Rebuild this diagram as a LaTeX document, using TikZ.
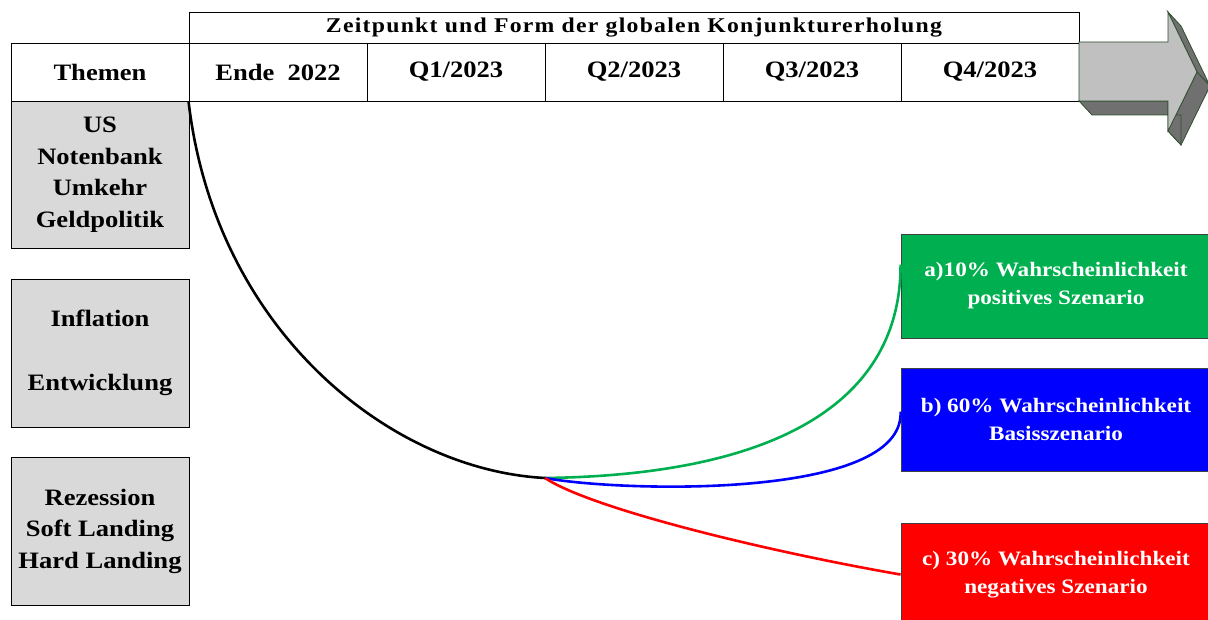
\documentclass[tikz,border=0pt]{standalone}
\usepackage{fontspec}
\setmainfont{Liberation Serif}[FakeStretch=1.13]
\usepackage{tikz}

\begin{document}
\begin{tikzpicture}[x=1pt,y=1pt,
  cell/.style={draw=black,line width=0.9pt,minimum width=178,minimum height=58,inner sep=0pt,align=center,font=\bfseries\fontsize{23.5}{31.5}\selectfont},
  theme/.style={cell,fill=themeGray,minimum height=148},
  scen/.style={draw=black!75,line width=0.9pt,minimum width=310,minimum height=104,inner sep=0pt,align=center,text=white,font=\bfseries\fontsize{20.5}{28}\selectfont},
  link/.style={line width=2.6pt}]
\definecolor{themeGray}{RGB}{217,217,217}
\definecolor{posGreen}{RGB}{0,176,80}
\definecolor{baseBlue}{RGB}{0,0,255}
\definecolor{negRed}{RGB}{255,0,0}
\definecolor{arrowFace}{RGB}{192,192,192}
\definecolor{arrowSide}{RGB}{112,112,112}
\definecolor{arrowEdge}{RGB}{47,79,47}
\path[use as bounding box,fill=white] (0,0) rectangle (1208,620);

\node[cell,minimum width=890,minimum height=31,font=\bfseries\fontsize{21}{22}\selectfont\addfontfeature{LetterSpace=6}] (title) at (634,592.5) {Zeitpunkt und Form der globalen Konjunkturerholung};
\node[cell] (themen) at (100,548) {Themen};
\node[cell] (ende) at (278,548) {Ende\ \ 2022};
\node[cell] (qone) at (456,548) {Q1/2023};
\node[cell] (qtwo) at (634,548) {Q2/2023};
\node[cell] (qthree) at (812,548) {Q3/2023};
\node[cell] (qfour) at (990,548) {Q4/2023};

\node[theme,minimum height=147] (us) at (100,445.5) {US\\Notenbank\\Umkehr\\Geldpolitik};
\node[theme] (infl) at (100,267) {Inflation\\[33pt]Entwicklung};
\node[theme] (rez) at (100,89) {Rezession\\Soft Landing\\Hard Landing};

\node[scen,fill=posGreen] (pos) at (1056,334) {a)10\% Wahrscheinlichkeit\\positives Szenario};
\node[scen,fill=baseBlue,minimum height=103] (basis) at (1056,200.5) {b) 60\% Wahrscheinlichkeit\\Basisszenario};
\node[scen,fill=negRed] (neg) at (1056,45) {c) 30\% Wahrscheinlichkeit\\negatives Szenario};

\path[draw=arrowEdge,line width=0.8pt,fill=arrowSide] (1168,608) -- (1181,594) -- (1210,534) -- (1197,548) -- cycle;
\path[draw=arrowEdge,line width=0.8pt,fill=arrowSide] (1197,548) -- (1210,534) -- (1181,475) -- (1168,489) -- cycle;
\path[draw=arrowEdge,line width=0.8pt,fill=arrowSide] (1079,519) -- (1092,505) -- (1181,505) -- (1181,475) -- (1168,489) -- (1168,519) -- cycle;
\path[draw=arrowEdge,line width=0.8pt,fill=arrowFace] (1079,578) -- (1168,578) -- (1168,608) -- (1197,548) -- (1168,489) -- (1168,519) -- (1079,519) -- cycle;

\coordinate (split) at (545,142);
\draw[link,black] (ende.south west) .. controls (215,290) and (390,150) .. (split);
\draw[link,posGreen] (split) .. controls (780,145) and (901,220) .. ([yshift=-31pt]pos.north west);
\draw[link,baseBlue] (split) .. controls (620,128) and (905,120) .. ([yshift=-44pt]basis.north west);
\draw[link,negRed] (split) .. controls (590,112) and (760,70) .. ([yshift=-52pt]neg.north west);
\end{tikzpicture}
\end{document}
